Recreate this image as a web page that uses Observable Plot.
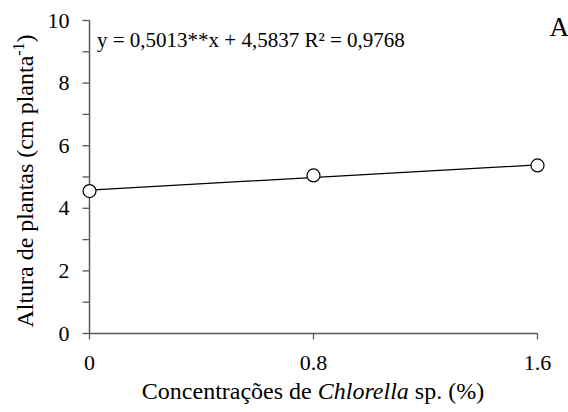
<!DOCTYPE html>
<html>
<head>
<meta charset="utf-8">
<script src="https://cdn.jsdelivr.net/npm/d3@7"></script>
<script src="https://cdn.jsdelivr.net/npm/@observablehq/plot@0.6"></script>
<style>
  html, body { margin: 0; padding: 0; background: #fff; }
  #chart { width: 568px; height: 412px; }
  #chart svg, #chart svg text { font-family: "Liberation Serif", "Times New Roman", Times, "DejaVu Serif", serif !important; }
</style>
</head>
<body>
<div id="chart"></div>
<script>
const concentrations = [0, 0.8, 1.6];
const heights = [4.55, 5.05, 5.37];
const fitSlope = 0.5013;
const fitIntercept = 4.5837;
const xTickValues = [0, 0.8, 1.6];
const xTickLabels = ["0", "0.8", "1.6"];
const yMajorTicks = [0, 2, 4, 6, 8, 10];
const yMinorTicks = [1, 3, 5, 7, 9];
const equationText = "y = 0,5013**x + 4,5837 R² = 0,9768";
const panelLetter = "A";

const points = concentrations.map((c, i) => ({x: c, y: heights[i]}));
const fitLine = [0, 1.6].map(x => ({x, y: fitSlope * x + fitIntercept}));

const font = '"Liberation Serif", "Times New Roman", Times, serif';
const axisColor = "#595959";

const plot = Plot.plot({
  width: 568,
  height: 412,
  marginLeft: 89,
  marginRight: 31,
  marginTop: 20,
  marginBottom: 79,
  style: {fontFamily: font, fontSize: "22px", color: "#000", background: "#fff"},
  x: {domain: [0, 1.6]},
  y: {domain: [0, 10]},
  marks: [
    Plot.ruleX([0], {stroke: axisColor, strokeWidth: 1.5}),
    Plot.ruleY([0], {stroke: axisColor, strokeWidth: 1.5}),
    Plot.axisY({ticks: yMajorTicks, tickSize: 6.5, tickPadding: 13.5, stroke: axisColor, strokeWidth: 1.3, fill: "#000", fontSize: 22, label: null}),
    Plot.axisY({ticks: yMinorTicks, tickSize: 6.5, text: null, stroke: axisColor, strokeWidth: 1.3, label: null}),
    Plot.axisX({ticks: xTickValues, tickSize: 6.5, tickPadding: 14, tickFormat: (d, i) => xTickLabels[i], stroke: axisColor, strokeWidth: 1.3, fill: "#000", fontSize: 22, label: null}),
    Plot.line(fitLine, {x: "x", y: "y", stroke: "#000", strokeWidth: 1.3}),
    Plot.dot(points, {x: "x", y: "y", r: 6.5, stroke: "#000", fill: "#fff", strokeWidth: 1.2}),
    Plot.text([equationText], {frameAnchor: "top-left", lineAnchor: "middle", dx: 7.5, dy: 20, text: d => d, fontSize: 21, fill: "#000", textAnchor: "start"}),
  ]
});

document.getElementById("chart").appendChild(plot);

const svg = d3.select(plot);
// Y-axis title with superscript
const yt = svg.append("text")
  .attr("transform", "translate(33,181) rotate(-90)")
  .attr("text-anchor", "middle")
  .style("font-family", font)
  .attr("font-size", 24)
  .attr("fill", "#000");
yt.append("tspan").text("Altura de plantas (cm planta");
yt.append("tspan").attr("font-size", 16).attr("dy", -9).text("-1");
yt.append("tspan").attr("dy", 9).text(")");

// X-axis title with italic
const xt = svg.append("text")
  .attr("x", 313)
  .attr("y", 399)
  .attr("text-anchor", "middle")
  .style("font-family", font)
  .attr("font-size", 24)
  .attr("fill", "#000");
xt.append("tspan").text("Concentrações de ");
xt.append("tspan").attr("font-style", "italic").text("Chlorella");
xt.append("tspan").text(" sp. (%)");

// Panel letter
svg.append("text")
  .attr("x", 569)
  .attr("y", 36)
  .attr("text-anchor", "end")
  .style("font-family", font)
  .attr("font-size", 27)
  .attr("fill", "#000")
  .text(panelLetter);
</script>
</body>
</html>
